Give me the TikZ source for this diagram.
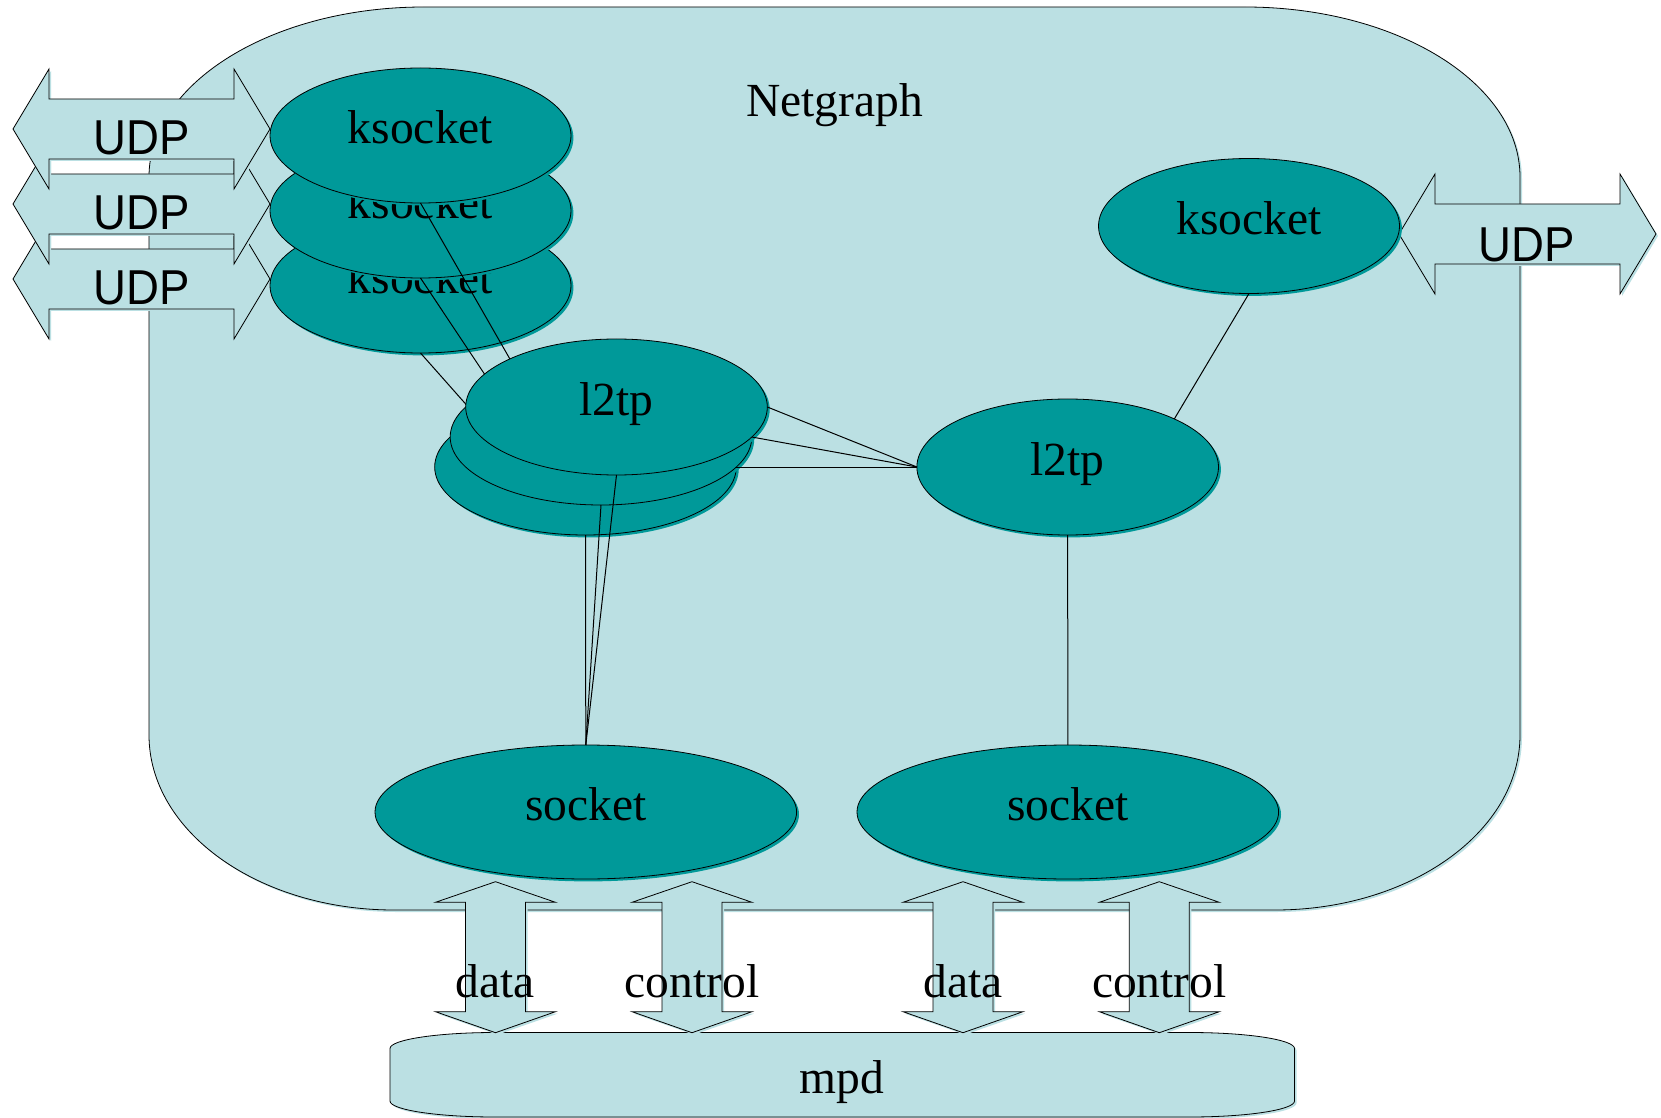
\documentclass[tikz,border=0pt]{standalone}
\usepackage{fontspec}
\setmainfont{Liberation Serif}
\newfontfamily\udpfont{Liberation Sans}
\usetikzlibrary{shapes.geometric,shadows,calc}
\definecolor{lightc}{HTML}{BBE0E3}
\definecolor{tealc}{HTML}{009999}
\pgfdeclarelayer{back}
\pgfdeclarelayer{mid}
\pgfsetlayers{back,mid,main}
% horizontal double arrow: left tip x, left back x, right back x, right tip x, centre y
\newcommand{\hdarrow}[5]{%
  \draw[lightshape] (#1,#5) -- (#2,#5-60) -- (#2,#5-30) -- (#3,#5-30) -- (#3,#5-60) -- (#4,#5)
    -- (#3,#5+60) -- (#3,#5+30) -- (#2,#5+30) -- (#2,#5+60) -- cycle;}
% vertical double arrow: centre x
\newcommand{\vdarrow}[1]{%
  \draw[lightshape] (#1,881.7) -- (#1+60,902.3) -- (#1+30,902.3) -- (#1+30,1011.7) -- (#1+60,1011.7)
    -- (#1,1032.7) -- (#1-60,1011.7) -- (#1-30,1011.7) -- (#1-30,902.3) -- (#1-60,902.3) -- cycle;}
\begin{document}
\begin{tikzpicture}[x=0.5pt,y=-0.5pt,line width=0.6pt,
  font=\fontsize{23.75pt}{28pt}\selectfont,
  lightshape/.style={draw=black,fill=lightc,
    drop shadow={shadow xshift=1pt,shadow yshift=-1pt,opacity=1,fill=lightc}},
  tealnode/.style={ellipse,draw=black,fill=tealc,inner sep=0pt,outer sep=0pt,
    text height=11.5pt,text depth=3pt,
    drop shadow={shadow xshift=1.2pt,shadow yshift=-1.2pt,opacity=1,fill=tealc}},
  ksock/.style={tealnode,minimum width=150.5pt,minimum height=67.5pt},
  l2tpn/.style={tealnode,minimum width=150.8pt,minimum height=68pt},
  sockn/.style={tealnode,minimum width=210.8pt,minimum height=67pt},
  txt/.style={anchor=base,inner sep=0pt},
  udptxt/.style={anchor=base,inner sep=0pt,font=\udpfont\fontsize{24.5pt}{29pt}\selectfont},
  conn/.style={draw=black,line width=0.5pt}]
\useasboundingbox (0,0) rectangle (1661,1118);

\begin{pgfonlayer}{back}
  % Netgraph frame
  \draw[lightshape] (149,177) .. controls (149,83.1) and (272.1,7) .. (424,7) -- (1245,7)
    .. controls (1396.9,7) and (1520,83.1) .. (1520,177) -- (1520,735)
    .. controls (1520,831.7) and (1410.3,910) .. (1275,910) -- (394,910)
    .. controls (258.7,910) and (149,831.7) .. (149,735) -- cycle;
  \node[txt] (ng) at (834.7,116.5) {Netgraph};
  % left UDP arrows
  \hdarrow{13}{49}{234}{270}{279}
  \node[udptxt] (u3) at (141.5,305) {\scalebox{0.93}[1]{UDP}};
  \hdarrow{13}{49}{234}{270}{204}
  \node[udptxt] (u2) at (141.5,230) {\scalebox{0.93}[1]{UDP}};
  \hdarrow{13}{49}{234}{270}{129}
  \node[udptxt] (u1) at (141.5,155) {\scalebox{0.93}[1]{UDP}};
  % right UDP arrow
  \hdarrow{1399}{1435}{1620}{1656}{234}
  \node[udptxt] (u4) at (1527,261.7) {\scalebox{0.93}[1]{UDP}};
  % ksocket stack
  \node[ksock] (ks3) at (420.5,285.5) {ksocket};
  \node[ksock] (ks2) at (420.5,210.5) {ksocket};
  \node[ksock] (ks1) at (420.5,135.5) {ksocket};
  \node[ksock] (rks) at (1249,226) {ksocket};
\end{pgfonlayer}

% l2tp stack and sockets
\node[l2tpn] (lt3) at (585.5,467) {};
\node[l2tpn] (lt2) at (601,437) {};
\node[l2tpn] (lt1) at (616.5,407) {l2tp};
\node[l2tpn] (rlt) at (1067.7,467) {l2tp};
\node[sockn] (so1) at (585.8,812) {socket};
\node[sockn] (so2) at (1067.8,812) {socket};

\begin{pgfonlayer}{mid}
  \draw[conn] (ks1.south) -- (lt1.north west);
  \draw[conn] (ks2.south) -- (lt2.north west);
  \draw[conn] (ks3.south) -- (lt3.north west);
\end{pgfonlayer}

\draw[conn] (lt1.east) -- (rlt.west);
\draw[conn] (lt2.east) -- (rlt.west);
\draw[conn] (lt3.east) -- (rlt.west);
\draw[conn] (lt1.south) -- (so1.north);
\draw[conn] (lt2.south) -- (so1.north);
\draw[conn] (lt3.south) -- (so1.north);
\draw[conn] (rks.south) -- (rlt.north east);
\draw[conn] (rlt.south) -- (so2.north);

% mpd
\draw[lightshape] (390,1048.5) .. controls (390,1039.7) and (437,1032.5) .. (495,1032.5) -- (1189.5,1032.5)
  .. controls (1247.5,1032.5) and (1294.5,1039.7) .. (1294.5,1048.5) -- (1294.5,1101)
  .. controls (1294.5,1109.8) and (1247.5,1117) .. (1189.5,1117) -- (495,1117)
  .. controls (437,1117) and (390,1109.8) .. (390,1101) -- cycle;
\node[txt] (mpd) at (842,1093.3) {mpd};

% data / control arrows
\vdarrow{495.5}
\vdarrow{692}
\vdarrow{963}
\vdarrow{1159.3}
\node[txt] (d1) at (495.5,997.3) {data};
\node[txt] (c1) at (692,997.3) {control};
\node[txt] (d2) at (963,997.3) {data};
\node[txt] (c2) at (1159.3,997.3) {control};
\end{tikzpicture}
\end{document}
